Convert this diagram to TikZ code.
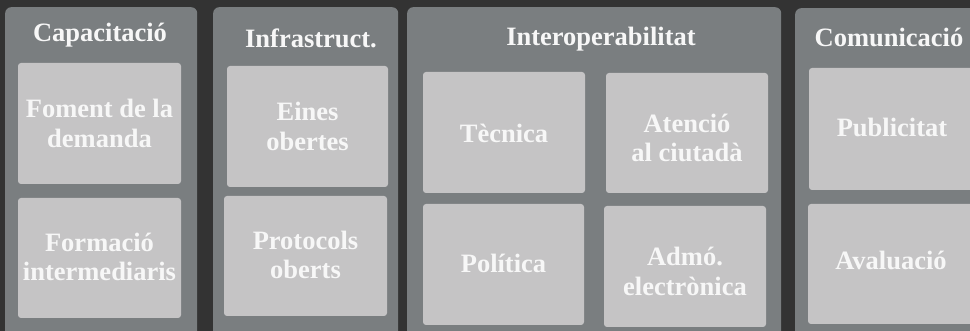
\documentclass[tikz,border=0pt]{standalone}
\usepackage{fontspec}
\setmainfont{Liberation Serif}
\definecolor{bgdark}{HTML}{333333}
\definecolor{panelgray}{HTML}{7A7E80}
\definecolor{innergray}{HTML}{C5C4C5}
\definecolor{txtwhite}{HTML}{F7F7F7}
\begin{document}
\begin{tikzpicture}[x=1pt,y=-1pt,
  panel/.style={fill=panelgray, rounded corners=6pt, inner sep=0pt, anchor=north west},
  inbox/.style={fill=innergray, rounded corners=3pt, inner sep=0pt},
  lbl/.style={align=center, text=txtwhite, inner sep=0pt,
     font=\bfseries\fontsize{26.5}{29.5}\selectfont},
  ttl/.style={text=txtwhite, font=\bfseries\fontsize{26.5}{29.5}\selectfont, inner sep=0pt}]
\useasboundingbox (0,0) rectangle (970,331);
\clip (0,0) rectangle (970,331);
\fill[bgdark] (0,0) rectangle (970,331);
% panels
\node[panel, minimum width=192pt, minimum height=340pt] (p1) at (5,7) {};
\node[panel, minimum width=185pt, minimum height=340pt] (p2) at (213,7) {};
\node[panel, minimum width=374pt, minimum height=340pt] (p3) at (407,7) {};
\node[panel, minimum width=190pt, minimum height=340pt] (p4) at (795,8) {};
% titles
\node[ttl] (t1) at (100,35) {Capacitació};
\node[ttl] (t2) at (311,38) {Infrastruct.};
\node[ttl] (t3) at (601,39) {Interoperabilitat};
\node[ttl] (t4) at (889,37) {Comunicació};
% inner boxes
\node[inbox, minimum width=163pt, minimum height=121pt] (a1) at (99.5,123.5) {};
\node[inbox, minimum width=163pt, minimum height=120pt] (a2) at (99.5,258) {};
\node[inbox, minimum width=161pt, minimum height=121pt] (b1) at (307.5,126.5) {};
\node[inbox, minimum width=163pt, minimum height=120pt] (b2) at (305.5,256) {};
\node[inbox, minimum width=162pt, minimum height=121pt] (c1) at (504,132.5) {};
\node[inbox, minimum width=162pt, minimum height=120pt] (c2) at (687,133) {};
\node[inbox, minimum width=161pt, minimum height=121pt] (c3) at (503.5,264.5) {};
\node[inbox, minimum width=162pt, minimum height=121pt] (c4) at (685,266.5) {};
\node[inbox, minimum width=166pt, minimum height=122pt] (d1) at (892,129) {};
\node[inbox, minimum width=166pt, minimum height=120pt] (d2) at (891,264) {};
% labels
\node[lbl] (la1) at (a1.center) {Foment de la\\demanda};
\node[lbl] (la2) at ([yshift=1pt]a2.center) {Formació\\intermediaris};
\node[lbl] (lb1) at (b1.center) {Eines\\obertes};
\node[lbl] (lb2) at ([yshift=1pt]b2.center) {Protocols\\oberts};
\node[lbl] (lc1) at ([yshift=-1pt]c1.center) {Tècnica};
\node[lbl] (lc2) at ([yshift=-5pt]c2.center) {Atenció\\al ciutadà};
\node[lbl] (lc3) at ([yshift=1pt]c3.center) {Política};
\node[lbl] (lc4) at ([yshift=-5pt]c4.center) {Admó.\\electrònica};
\node[lbl] (ld1) at ([yshift=2pt]d1.center) {Publicitat};
\node[lbl] (ld2) at ([yshift=4pt]d2.center) {Avaluació};
\end{tikzpicture}
\end{document}
